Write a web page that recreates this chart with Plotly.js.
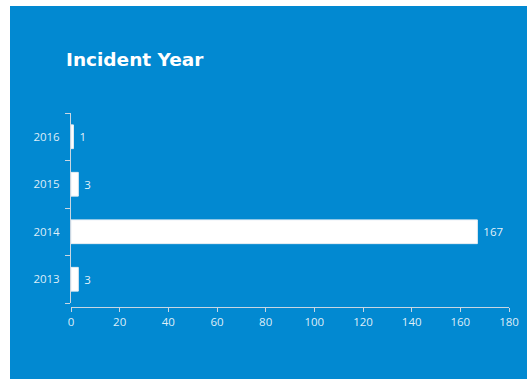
<!DOCTYPE html>
<html>
<head>
<meta charset="utf-8">
<script src="https://cdn.plot.ly/plotly-3.0.1.min.js"></script>
<style>
html,body{margin:0;padding:0;background:#ffffff;}
#chart{position:absolute;left:10px;top:6px;width:517px;height:373px;}
</style>
</head>
<body>
<div id="chart"></div>
<script>
const categories = ["2013", "2014", "2015", "2016"];
const counts = [3, 167, 3, 1];
const xTicks = [0, 20, 40, 60, 80, 100, 120, 140, 160, 180];

const trace = {
  type: "bar",
  orientation: "h",
  y: categories,
  x: counts,
  width: 0.5,
  marker: {color: "#ffffff", line: {color: "#e6edf3", width: 1}},
  text: counts.map(v => "\u00a0" + v),
  textposition: "outside",
  cliponaxis: false,
  textfont: {family: "Open Sans", size: 11.5, color: "rgba(255,255,255,0.9)"},
  hoverinfo: "none"
};

const axisColor = "#c9d6e2";
const tickFont = {family: "Open Sans", size: 11.5, color: "rgba(255,255,255,0.88)"};
const layout = {
  width: 517,
  height: 373,
  paper_bgcolor: "#0289d1",
  plot_bgcolor: "#0289d1",
  margin: {l: 60.5, r: 18, t: 107, b: 72},
  showlegend: false,
  title: {
    text: "<b>Incident Year</b>",
    x: 56 / 517, xanchor: "left", xref: "container",
    y: 1 - 54 / 373, yanchor: "middle", yref: "container",
    font: {family: "DejaVu Sans", size: 18.5, color: "#ffffff"}
  },
  xaxis: {
    range: [0, 180],
    tickvals: xTicks,
    ticktext: xTicks.map(String),
    showgrid: false,
    zeroline: false,
    showline: true,
    linecolor: axisColor,
    linewidth: 1,
    ticks: "outside",
    ticklen: 4,
    tickcolor: axisColor,
    anchor: "free",
    position: 0,
    tickfont: tickFont
  },
  yaxis: {
    type: "category",
    categoryorder: "array",
    categoryarray: categories,
    range: [-0.5, 3.5],
    domain: [4 / 194, 1],
    tickson: "boundaries",
    showgrid: false,
    zeroline: false,
    showline: true,
    linecolor: axisColor,
    linewidth: 1,
    ticks: "outside",
    ticklen: 5,
    tickcolor: axisColor,
    ticklabelstandoff: 8,
    tickfont: tickFont
  }
};

Plotly.newPlot("chart", [trace], layout, {displayModeBar: false, staticPlot: true});
</script>
</body>
</html>
